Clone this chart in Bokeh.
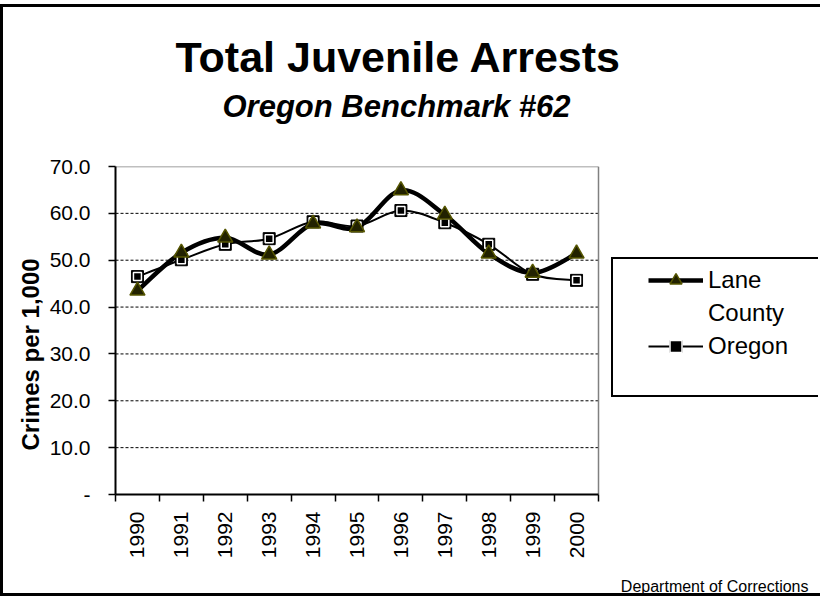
import math
from bokeh.plotting import figure
from bokeh.models import (Range1d, FixedTicker, Title, Legend, LegendItem)
from bokeh.embed import file_html
from bokeh.resources import INLINE

# ---- data ----
years = ["1990", "1991", "1992", "1993", "1994", "1995", "1996", "1997", "1998", "1999", "2000"]
lane_county = [43.5, 51.6, 54.8, 51.2, 57.8, 57.0, 64.9, 59.7, 51.4, 47.3, 51.4]
oregon = [46.5, 50.1, 53.4, 54.6, 58.2, 57.3, 60.6, 58.0, 53.4, 47.0, 45.7]
y_ticks = [0, 10, 20, 30, 40, 50, 60, 70]

FONT = "Liberation Sans"

n_cat = len(years)
xs = [i + 0.5 for i in range(n_cat)]
y_max = y_ticks[-1]
grid_ticks = [t for t in y_ticks if 0 < t < y_max]


def smooth_segments(x, y):
    """Cubic Bezier control points (Catmull-Rom style) for a smoothed line."""
    n = len(x)
    seg = dict(x0=[], y0=[], x1=[], y1=[], cx0=[], cy0=[], cx1=[], cy1=[])
    for i in range(n - 1):
        xm, ym = (x[i - 1], y[i - 1]) if i > 0 else (x[i], y[i])
        xp, yp = (x[i + 2], y[i + 2]) if i + 2 < n else (x[i + 1], y[i + 1])
        seg["x0"].append(x[i]); seg["y0"].append(y[i])
        seg["x1"].append(x[i + 1]); seg["y1"].append(y[i + 1])
        seg["cx0"].append(x[i] + (x[i + 1] - xm) / 6.0)
        seg["cy0"].append(y[i] + (y[i + 1] - ym) / 6.0)
        seg["cx1"].append(x[i + 1] - (xp - x[i]) / 6.0)
        seg["cy1"].append(y[i + 1] - (yp - y[i]) / 6.0)
    return seg


# layout (pixels)
W, H = 820, 592
LEFT, RIGHT, TOP, BOTTOM = 112, 5, 159, 105
PLOT_W = 483                      # width of the category area
frame_w = W - LEFT - RIGHT        # frame also hosts the legend area on the right
x_end = n_cat * frame_w / PLOT_W

p = figure(width=W, height=H, output_backend="svg", toolbar_location=None,
           x_range=Range1d(0, x_end), y_range=Range1d(0, y_max),
           min_border_left=LEFT, min_border_right=RIGHT,
           min_border_top=TOP, min_border_bottom=BOTTOM,
           styles={"margin-top": "4px",
                   "border-left": "3px solid black",
                   "border-top": "3px solid black",
                   "border-bottom": "3px solid black"})
p.background_fill_color = "white"
p.border_fill_color = "white"
p.outline_line_color = None

# titles (first added sits nearest the plot)
top_gap = Title(text=" ", text_font=FONT, text_font_size="1px", standoff=40)
sub = Title(text="Oregon Benchmark #62", text_font=FONT, text_font_size="31px",
            text_font_style="bold italic", text_color="black",
            align="left", offset=107, standoff=0)
main = Title(text="Total Juvenile Arrests", text_font=FONT, text_font_size="43px",
             text_font_style="bold", text_color="black",
             align="left", offset=60, standoff=12)
p.add_layout(top_gap, "above")
p.add_layout(sub, "above")
p.add_layout(main, "above")

ylab = Title(text="Crimes per 1,000", text_font=FONT, text_font_size="24px",
             text_font_style="bold", text_color="black",
             align="left", offset=44, standoff=6)
p.add_layout(ylab, "left")

bottom_gap = Title(text=" ", text_font=FONT, text_font_size="1px", standoff=11)
foot = Title(text="Department of Corrections", text_font=FONT, text_font_size="16px",
             text_font_style="normal", text_color="black",
             align="right", offset=10, standoff=0)
p.add_layout(bottom_gap, "below")
p.add_layout(foot, "below")

# axes
p.yaxis.ticker = FixedTicker(ticks=y_ticks)
p.yaxis.major_label_overrides = {t: ("-" if t == 0 else f"{t:.1f}") for t in y_ticks}
p.yaxis.major_label_text_font = FONT
p.yaxis.major_label_text_font_size = "21px"
p.yaxis.major_label_text_color = "black"
p.yaxis.major_tick_out = 7
p.yaxis.major_tick_in = 0
p.yaxis.minor_tick_out = 0
p.yaxis.minor_tick_in = 0
p.yaxis.major_label_standoff = 18
p.yaxis.axis_line_width = 2
p.yaxis.axis_line_color = "black"
p.yaxis.major_tick_line_color = "black"
p.yaxis.major_tick_line_width = 1.5

p.xaxis.bounds = (0, n_cat)
p.xaxis.ticker = FixedTicker(ticks=xs, minor_ticks=list(range(n_cat + 1)))
p.xaxis.major_label_overrides = {x: yr for x, yr in zip(xs, years)}
p.xaxis.major_label_orientation = math.pi / 2
p.xaxis.major_label_text_font = FONT
p.xaxis.major_label_text_font_size = "21px"
p.xaxis.major_label_text_color = "black"
p.xaxis.major_tick_out = 0
p.xaxis.major_tick_in = 0
p.xaxis.minor_tick_out = 7
p.xaxis.minor_tick_in = 0
p.xaxis.minor_tick_line_color = "black"
p.xaxis.minor_tick_line_width = 1.5
p.xaxis.major_label_standoff = 10
p.xaxis.axis_line_width = 2
p.xaxis.axis_line_color = "black"

p.xgrid.visible = False
p.ygrid.visible = False

# horizontal dashed gridlines and the grey plot-area border (top & right)
p.segment(x0=[0] * len(grid_ticks), y0=grid_ticks, x1=[n_cat] * len(grid_ticks), y1=grid_ticks,
          line_color="black", line_dash="3 2", line_width=1)
p.segment(x0=[0, n_cat], y0=[y_max, 0], x1=[n_cat, n_cat], y1=[y_max, y_max],
          line_color="#808080", line_width=1.5)

# series
LANE_FILL = "#222200"
LANE_EDGE = "#555500"

p.bezier(**smooth_segments(xs, oregon), line_color="black", line_width=2)
p.bezier(**smooth_segments(xs, lane_county), line_color="black", line_width=4.5)

or_outer = p.scatter(xs, oregon, marker="square", size=12, fill_color="black",
                     line_color="black", line_width=1)
or_inner = p.scatter(xs, oregon, marker="square", size=8, fill_color="black",
                     line_color="white", line_width=1.5)
lane_pts = p.scatter(xs, lane_county, marker="triangle", size=15, fill_color=LANE_FILL,
                     line_color=LANE_EDGE, line_width=1.5)

# legend proxies (lines with no visible data)
nan = float("nan")
lane_leg_line = p.line([nan], [nan], line_color="black", line_width=4.5)
or_leg_line = p.line([nan], [nan], line_color="black", line_width=2)

# legend frame (box only)
legend_box = Legend(items=[LegendItem(label=" ", renderers=[])],
                    location=(496, 97), margin=0, padding=0, spacing=0,
                    glyph_width=1, glyph_height=136, label_height=136, label_width=204,
                    label_standoff=0, label_text_font=FONT, label_text_font_size="10px",
                    border_line_color="black", border_line_width=2, border_line_alpha=1.0,
                    background_fill_color="white", background_fill_alpha=1.0)
p.add_layout(legend_box, "center")

legend = Legend(items=[
    LegendItem(label="Lane", renderers=[lane_leg_line, lane_pts]),
    LegendItem(label="County", renderers=[]),
    LegendItem(label="Oregon", renderers=[or_leg_line, or_outer, or_inner]),
], location=(533, 133), margin=0, padding=0, spacing=3,
    glyph_width=55, glyph_height=30, label_height=30,
    label_standoff=5, label_text_font=FONT, label_text_font_size="24px",
    label_text_color="black", border_line_alpha=0.0,
    background_fill_alpha=0.0)
p.add_layout(legend, "center")

open("out.html", "w").write(file_html(p, INLINE))
